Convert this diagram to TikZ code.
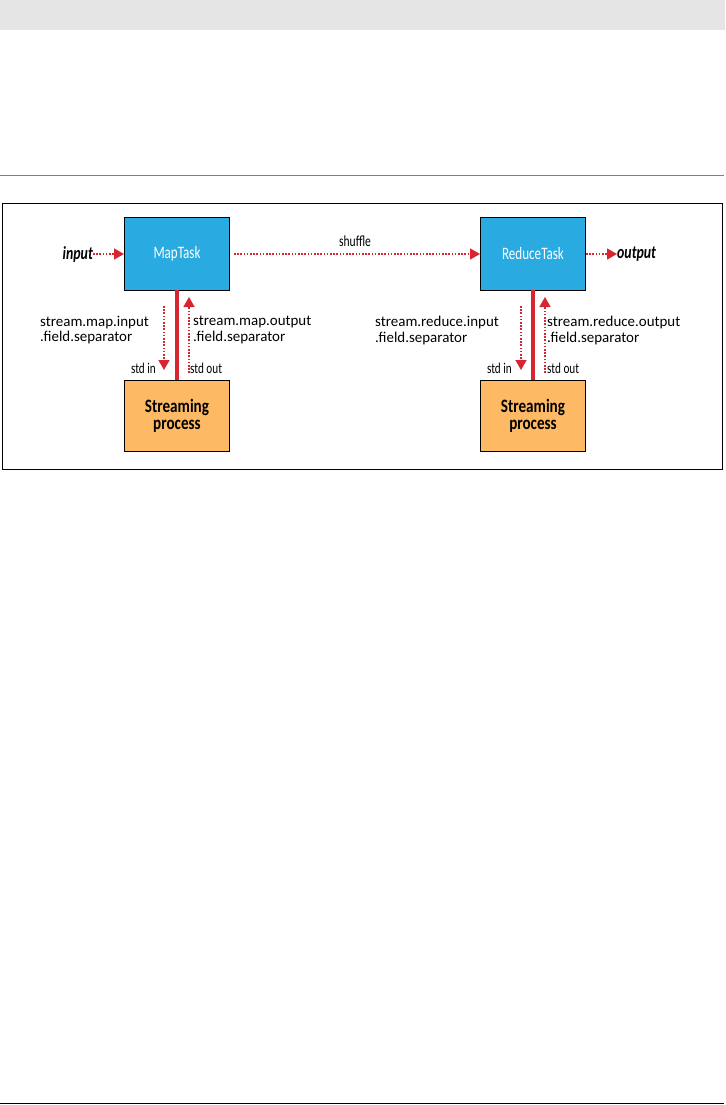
\documentclass[tikz,border=0pt]{standalone}
\usepackage{fontspec}
\setmainfont{Carlito}
\newfontfamily\condfont[FakeStretch=0.75]{Carlito}
\newfontfamily\semifont[FakeStretch=0.8]{Carlito}
\usetikzlibrary{arrows.meta}
\definecolor{boxblue}{HTML}{29ABE2}
\definecolor{boxorange}{HTML}{FDB964}
\definecolor{arrred}{HTML}{D7262F}
\definecolor{bandgray}{HTML}{E5E5E5}
\begin{document}
\begin{tikzpicture}[x=1bp,y=-1bp,
  task/.style={draw=black,line width=1bp,fill=boxblue,text=white,minimum width=105bp,minimum height=73bp,inner sep=0pt,font=\condfont\fontsize{17.5}{18}\selectfont,anchor=north west},
  proc/.style={draw=black,line width=1bp,fill=boxorange,text=black,minimum width=105bp,minimum height=71bp,inner sep=0pt,font=\semifont\fontsize{19}{18}\selectfont\bfseries,align=center,anchor=north west},
  dotarrow/.style={draw=arrred,line width=1.6bp,dash pattern=on 1.6bp off 1.6bp,-{Triangle[length=10bp,width=11bp,fill=arrred,sharp]}},
  thick red/.style={draw=arrred,line width=4bp},
  lbl/.style={font=\fontsize{15}{15.5}\selectfont,align=left,inner sep=0pt},
  small/.style={font=\condfont\fontsize{15}{16}\selectfont,inner sep=0pt},
  io/.style={font=\condfont\fontsize{18.5}{19}\selectfont\bfseries\itshape,inner sep=0pt}]
\useasboundingbox (0,0) rectangle (726,1105);
% page decorations
\fill[bandgray] (0,0) rectangle (725,30);
\draw[gray,line width=1bp] (0,175) -- (724,175);
\draw[black,line width=1bp] (0,1103) -- (724,1103);
% frame
\draw[black,line width=1bp] (2,203) rectangle (722,469);
% boxes
\node[task] (map) at (124,217) {MapTask};
\node[task] (red) at (480,217) {ReduceTask};
\node[proc] (sp1) at (124,380) {Streaming\\[-1bp]process};
\node[proc] (sp2) at (480,380) {Streaming\\[-1bp]process};
% input / output
\node[io,anchor=east] (in) at (93,254) {input};
\node[io,anchor=west] (out) at (617,254) {output};
\draw[dotarrow] (in.east) -- (map.west |- in.east);
\draw[dotarrow] (red.east |- out.west) -- (out.west);
% shuffle
\draw[dotarrow] (map.east) ++(4,0) coordinate (sh0) (sh0) -- (red.west);
\node[small,font=\condfont\fontsize{15.5}{16}\selectfont] (shl) at (355,241) {shuffle};
% thick lines
\coordinate (m1) at (177,290);
\coordinate (m2) at (177,380);
\draw[thick red] (m1) -- (m2);
\coordinate (r1) at (533,290);
\coordinate (r2) at (533,380);
\draw[thick red] (r1) -- (r2);
% map dotted arrows
\coordinate (md0) at (164,306);
\coordinate (md1) at (164,370);
\draw[dotarrow] (md0) -- (md1);
\coordinate (mu0) at (189,373);
\coordinate (mu1) at (189,297);
\draw[dotarrow] (mu0) -- (mu1);
% reduce dotted arrows
\coordinate (rd0) at (521,306);
\coordinate (rd1) at (521,370);
\draw[dotarrow] (rd0) -- (rd1);
\coordinate (ru0) at (545,373);
\coordinate (ru1) at (545,297);
\draw[dotarrow] (ru0) -- (ru1);
% labels
\node[lbl,anchor=north west] (l1) at (40,316) {stream.map.input\\.field.separator};
\node[lbl,anchor=north west] (l2) at (193,316) {stream.map.output\\.field.separator};
\node[lbl,anchor=north west] (l3) at (375,316) {stream.reduce.input\\.field.separator};
\node[lbl,anchor=north west] (l4) at (547,316) {stream.reduce.output\\.field.separator};
\node[small,anchor=east] (s1) at (156,368) {std in};
\node[small,anchor=west] (s2) at (190,368) {std out};
\node[small,anchor=east] (s3) at (512,368) {std in};
\node[small,anchor=west] (s4) at (547,368) {std out};
\end{tikzpicture}
\end{document}
